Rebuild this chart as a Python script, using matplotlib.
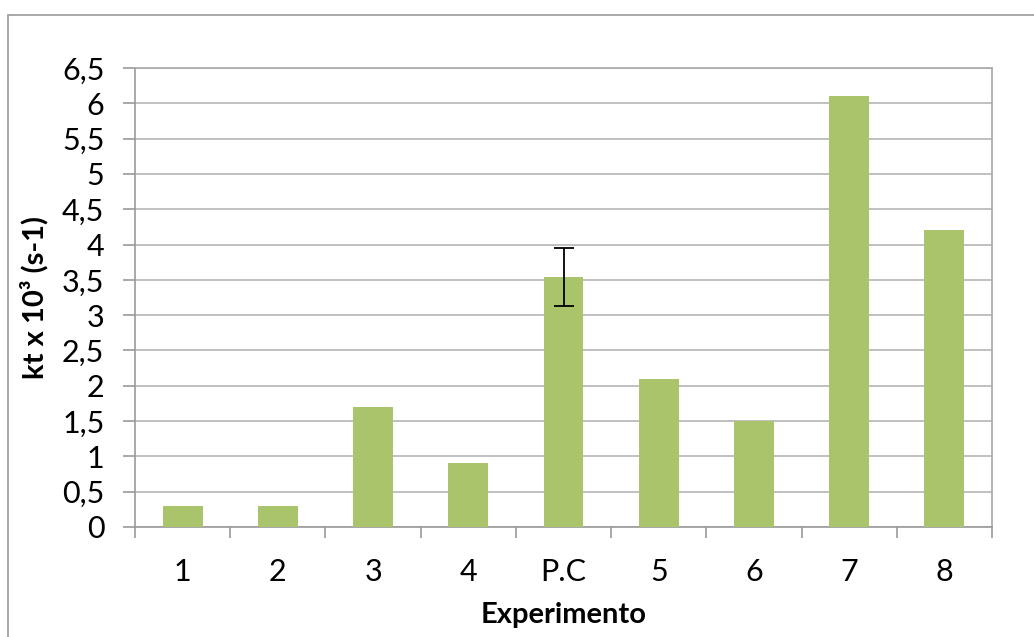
import matplotlib.pyplot as plt
import numpy as np
from matplotlib.patches import Rectangle
from matplotlib.ticker import FuncFormatter, MultipleLocator

plt.rcParams['font.family'] = ['Lato', 'DejaVu Sans']

categorias = ['1', '2', '3', '4', 'P.C', '5', '6', '7', '8']
valores = [0.3, 0.3, 1.7, 0.9, 3.54, 2.1, 1.5, 6.1, 4.2]
erro_pc = 0.41

fig = plt.figure(figsize=(10.34, 6.37), dpi=100)
ax = fig.add_axes([135 / 1034, 1 - 527 / 637, 857 / 1034, 459 / 637])

# borda do grafico (estilo Excel)
fig.patches.append(Rectangle((8 / 1034, -0.1), 1.2, 1 - 15 / 637 + 0.1,
                             transform=fig.transFigure, fill=False,
                             edgecolor='#9a9a9a', linewidth=1.2))

x = np.arange(len(categorias))
ax.bar(x, valores, width=0.42, color='#a9c46b', zorder=3)
i_pc = categorias.index('P.C')
ax.errorbar(x[i_pc], valores[i_pc], yerr=erro_pc, fmt='none', ecolor='black',
            elinewidth=1.3, capsize=7, capthick=1.3, zorder=4)

ax.set_xlim(-0.5, len(categorias) - 0.5)
ax.set_ylim(0, 6.5)
ax.yaxis.set_major_locator(MultipleLocator(0.5))
ax.yaxis.set_major_formatter(FuncFormatter(lambda v, p: ('%g' % v).replace('.', ',')))
ax.grid(axis='y', color='#b5b5b5', linewidth=1.2, zorder=0)

ax.set_xticks(x)
ax.set_xticklabels(categorias)
ax.set_xticks(np.arange(-0.5, len(categorias)), minor=True)
ax.tick_params(axis='x', which='major', length=0, pad=22, labelsize=22)
ax.tick_params(axis='x', which='minor', length=8, color='#9a9a9a', width=1.2)
ax.tick_params(axis='y', length=9, color='#9a9a9a', width=1.2, labelsize=22, pad=13)

for s in ax.spines.values():
    s.set_color('#a8a8a8')
    s.set_linewidth(1.2)
ax.spines['left'].set_color('#9a9a9a')
ax.spines['bottom'].set_color('#9a9a9a')

ax.set_ylabel('kt x 10³ (s-1)', fontsize=21, fontweight='bold', labelpad=10)
ax.set_xlabel('Experimento', fontsize=21, fontweight='bold', labelpad=12)

fig.savefig('out.png', dpi=100)
